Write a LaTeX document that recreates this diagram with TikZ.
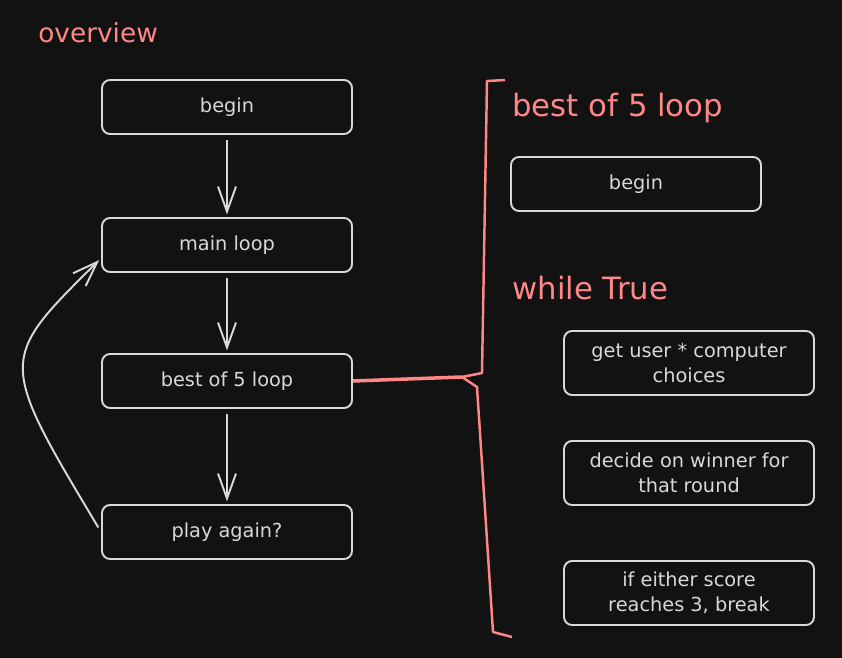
\documentclass[tikz,border=0pt]{standalone}
\usepackage{fontspec}
\setmainfont{DejaVu Sans}
\usetikzlibrary{arrows.meta}
\definecolor{canvas}{HTML}{121212}
\definecolor{chalk}{HTML}{D8D8D8}
\definecolor{salmon}{HTML}{FF8787}

\begin{document}
\begin{tikzpicture}[
    x=0.02cm,y=-0.02cm,
    box/.style={draw=chalk,line width=1.1pt,rounded corners=0.16cm,minimum width=5cm,minimum height=1.08cm,align=center,text=chalk,font=\fontsize{11}{14}\selectfont},
    tallbox/.style={box,minimum height=1.28cm},
    heading/.style={anchor=west,inner sep=0pt,text=salmon,font=\fontsize{17.5}{20}\selectfont},
    flow/.style={-{Straight Barb[length=5mm,width=3.6mm]},draw=chalk,line width=1.1pt,shorten <=3pt,shorten >=1.5pt},
    bracket/.style={draw=salmon,line width=1.4pt,line join=round}
  ]
    \fill[canvas] (0,0) rectangle (842,658);
    \useasboundingbox (0,0) rectangle (842,658);

    \node[heading,font=\fontsize{15}{18}\selectfont] (overview) at (38,33) {overview};
    \node[heading] (looptitle) at (512,108) {best of 5 loop};
    \node[heading] (whiletitle) at (512,288) {while True};

    \node[box] (begin) at (227,107) {begin};
    \node[box] (mainloop) at (227,245) {main loop};
    \node[box] (bestof) at (227,381) {best of 5 loop};
    \node[box] (again) at (227,532) {play again?};

    \node[box] (innerbegin) at (636,184) {begin};
    \node[tallbox] (choices) at (689,363) {get user * computer\\choices};
    \node[tallbox] (winner) at (689,473) {decide on winner for\\that round};
    \node[tallbox] (score) at (689,593) {if either score\\reaches 3, break};

    \foreach \a/\b in {begin/mainloop,mainloop/bestof,bestof/again} {
      \draw[flow] (\a) -- (\b);
    }
    \draw[flow] (again.180) .. controls (-2,360) .. (mainloop.186);

    % bracket round the inner loop
    \coordinate (tip) at (462,377);
    \draw[bracket] (505,80) -- (487,81) -- (482,373) -- (tip) -- (477,387) -- (493,632) -- (512,637);
    \draw[bracket,line width=2pt] (bestof.east) -- (tip);
  \end{tikzpicture}
\end{document}
